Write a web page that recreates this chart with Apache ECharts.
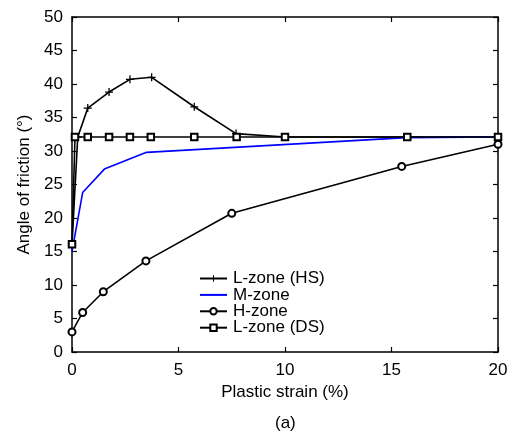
<!DOCTYPE html>
<html>
<head>
<meta charset="utf-8">
<style>
	html, body { margin: 0; padding: 0; background: #fff; }
	#chart { width: 516px; height: 437px; }
</style>
<script src="https://cdn.jsdelivr.net/npm/echarts@6/dist/echarts.min.js"></script>
</head>
<body>
<div id="chart"></div>
<script>
/* 数据部分：数值 */
// L-zone (HS)
const hsStrain = [0, 0.27, 0.74, 1.74, 2.72, 3.74, 5.74, 7.7, 10, 15.74, 20];
const hsAngle = [16.1, 32.1, 36.4, 38.8, 40.7, 41.0, 36.6, 32.6, 32.1, 32.1, 32.1];
// M-zone
const mStrain = [0, 0.5, 1.52, 3.5, 15.7, 20];
const mAngle = [15.0, 23.8, 27.3, 29.8, 32.0, 32.1];
// H-zone
const hStrain = [0, 0.5, 1.47, 3.47, 7.5, 15.48, 20];
const hAngle = [3.0, 5.9, 9.0, 13.6, 20.7, 27.7, 31.0];
// L-zone (DS)
const dsStrain = [0, 0.14, 0.74, 1.74, 2.72, 3.7, 5.74, 7.73, 10, 15.74, 20];
const dsAngle = [16.1, 32.1, 32.1, 32.1, 32.1, 32.1, 32.1, 32.1, 32.1, 32.1, 32.1];

const xTicks = [0, 5, 10, 15, 20];
const yTicks = [0, 5, 10, 15, 20, 25, 30, 35, 40, 45, 50];

/* 公共样式 */
const FONT = 'Liberation Sans';
const FS = 17;
const plusSymbol = 'path://M4.2,0H5.8V4.2H10V5.8H5.8V10H4.2V5.8H0V4.2H4.2Z';

function pairs(xs, ys) {
	return xs.map((x, i) => [x, ys[i]]);
}

// 坐标轴（下/左带标签，上/右只有刻度）
function makeAxis(type, pos, show, ticks, name) {
	return {
		type: 'value',
		position: pos,
		min: ticks[0],
		max: ticks[ticks.length - 1],
		interval: ticks[1] - ticks[0],
		name: show ? name : '',
		nameLocation: 'middle',
		nameGap: type === 'x' ? 31 : 35,
		nameTextStyle: { color: '#000', fontSize: FS, fontFamily: FONT },
		axisLine: { show: true, onZero: false, lineStyle: { color: '#000', width: 1.5 } },
		axisTick: {
			show: true, inside: true, length: 5,
			lineStyle: { color: '#000', width: 1.2 }
		},
		axisLabel: {
			show: show, color: '#000', fontSize: FS, fontFamily: FONT,
			margin: type === 'x' ? 10 : 9,
			showMinLabel: true, showMaxLabel: true
		},
		splitLine: { show: false }
	};
}

/* 画图 */
let chart = echarts.init(document.getElementById('chart'));
chart.setOption({
	animation: false,
	backgroundColor: '#fff',
	textStyle: { fontFamily: FONT },
	grid: { left: 72, right: 18, top: 17, bottom: 85 },
	xAxis: [
		makeAxis('x', 'bottom', true, xTicks, 'Plastic strain (%)'),
		makeAxis('x', 'top', false, xTicks, '')
	],
	yAxis: [
		makeAxis('y', 'left', true, yTicks, 'Angle of friction (°)'),
		makeAxis('y', 'right', false, yTicks, '')
	],
	legend: {
		orient: 'vertical',
		left: 199,
		top: 270,
		padding: 0,
		itemWidth: 27,
		itemHeight: 8,
		itemGap: -0.6,
		textStyle: {
			color: '#000', fontSize: FS, fontFamily: FONT,
			lineHeight: 14, padding: [0, 0, 0, 1]
		},
		data: ['L-zone (HS)', 'M-zone', 'H-zone', 'L-zone (DS)']
	},
	graphic: [{
		type: 'text',
		left: 275,
		top: 415,
		style: { text: '(a)', fontSize: FS, fontFamily: FONT, fill: '#000' }
	}],
	series: [{
		name: 'L-zone (HS)',
		type: 'line',
		data: pairs(hsStrain, hsAngle),
		symbol: plusSymbol,
		symbolSize: 8,
		showAllSymbol: true,
		lineStyle: { color: '#000', width: 1.6 },
		itemStyle: { color: '#000' }
	}, {
		name: 'M-zone',
		type: 'line',
		data: pairs(mStrain, mAngle),
		symbol: 'circle',
		showSymbol: false,
		lineStyle: { color: '#0000ff', width: 1.6 },
		itemStyle: { color: 'rgba(0,0,0,0)' }
	}, {
		name: 'H-zone',
		type: 'line',
		data: pairs(hStrain, hAngle),
		symbol: 'emptyCircle',
		symbolSize: 7,
		showAllSymbol: true,
		lineStyle: { color: '#000', width: 1.6 },
		itemStyle: { color: '#000', borderWidth: 1.3 }
	}, {
		name: 'L-zone (DS)',
		type: 'line',
		data: pairs(dsStrain, dsAngle),
		symbol: 'emptyRect',
		symbolSize: 6.5,
		showAllSymbol: true,
		lineStyle: { color: '#000', width: 1.6 },
		itemStyle: { color: '#000', borderWidth: 1.3 }
	}]
});
</script>
</body>
</html>
